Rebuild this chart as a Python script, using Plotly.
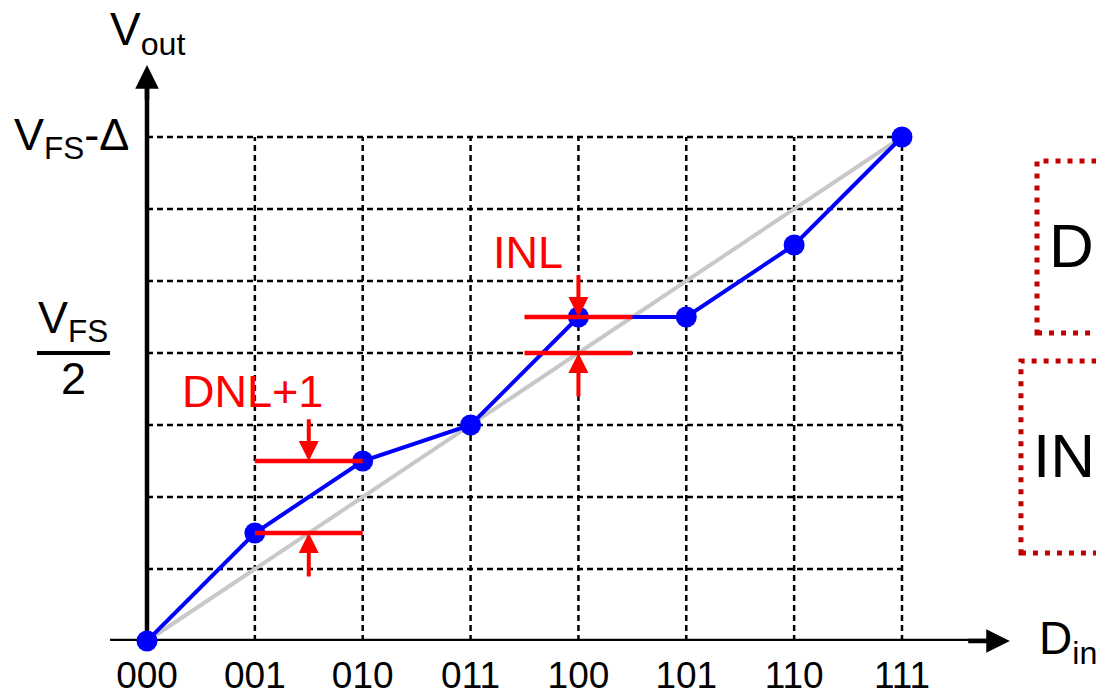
import plotly.graph_objects as go

# DAC transfer characteristic: 3-bit input codes vs. output level (in LSB units)
codes = ["000", "001", "010", "011", "100", "101", "110", "111"]
code_index = [0, 1, 2, 3, 4, 5, 6, 7]
vout_actual = [0, 1.5, 2.5, 3, 4.5, 4.5, 5.5, 7]
vout_ideal = [0, 7]
ideal_x = [0, 7]

# Error markers (horizontal reference bars) and measuring arrows
dnl_bars_y = [2.5, 1.5]
dnl_bars_x = [1, 2]
inl_bars_y = [4.5, 4.0]
inl_bars_x = [3.5, 4.5]
dnl_arrow_x = 1.5
inl_arrow_x = 4.0

FONT = "Arial, Liberation Sans, sans-serif"
BLUE = "#0000ff"
RED = "#ff0000"
DARKRED = "#c00000"

fig = go.Figure()

# dashed grid inside the 0..7 square
for k in range(1, 8):
    fig.add_trace(go.Scatter(x=[k, k], y=[0, 7], mode="lines",
                             line=dict(color="black", width=2.5, dash="6px,4px"),
                             hoverinfo="skip", showlegend=False))
    fig.add_trace(go.Scatter(x=[0, 7], y=[k, k], mode="lines",
                             line=dict(color="black", width=2.5, dash="6px,4px"),
                             hoverinfo="skip", showlegend=False))

# axes
fig.add_trace(go.Scatter(x=[-0.343, 7.8], y=[0, 0], mode="lines",
                         line=dict(color="black", width=4.5),
                         hoverinfo="skip", showlegend=False, cliponaxis=False))
fig.add_trace(go.Scatter(x=[0, 0], y=[0, 7.8], mode="lines",
                         line=dict(color="black", width=4.5),
                         hoverinfo="skip", showlegend=False, cliponaxis=False))

# ideal transfer line
fig.add_trace(go.Scatter(x=ideal_x, y=vout_ideal, mode="lines",
                         line=dict(color="#c8c8c8", width=4),
                         hoverinfo="skip", showlegend=False))

# actual transfer curve
fig.add_trace(go.Scatter(x=code_index, y=vout_actual, mode="lines+markers",
                         line=dict(color=BLUE, width=4),
                         marker=dict(color=BLUE, size=21),
                         hoverinfo="skip", showlegend=False, cliponaxis=False))

# red reference bars
for yv in dnl_bars_y:
    fig.add_trace(go.Scatter(x=dnl_bars_x, y=[yv, yv], mode="lines",
                             line=dict(color=RED, width=4.5),
                             hoverinfo="skip", showlegend=False))
for yv in inl_bars_y:
    fig.add_trace(go.Scatter(x=inl_bars_x, y=[yv, yv], mode="lines",
                             line=dict(color=RED, width=4.5),
                             hoverinfo="skip", showlegend=False))

# fraction bar of the VFS/2 label
fig.add_trace(go.Scatter(x=[-1.02, -0.343], y=[4.0, 4.0], mode="lines",
                         line=dict(color="black", width=4),
                         hoverinfo="skip", showlegend=False, cliponaxis=False))


def arrow(x, y, ax, ay, color, width, size):
    fig.add_annotation(x=x, y=y, ax=ax, ay=ay, xref="x", yref="y",
                       axref="x", ayref="y", text="", showarrow=True,
                       arrowhead=2, arrowsize=size, arrowwidth=width,
                       arrowcolor=color, standoff=0, startstandoff=0)


# axis arrowheads
arrow(8.0, 0, 7.6, 0, "black", 4.5, 1.05)
arrow(0, 8.0, 0, 7.5, "black", 4.5, 1.05)

# DNL / INL measuring arrows
arrow(dnl_arrow_x, dnl_bars_y[0], dnl_arrow_x, 3.1, RED, 4, 1.0)
arrow(dnl_arrow_x, dnl_bars_y[1], dnl_arrow_x, 0.875, RED, 4, 1.0)
arrow(inl_arrow_x, inl_bars_y[0], inl_arrow_x, 5.1, RED, 4, 1.0)
arrow(inl_arrow_x, inl_bars_y[1], inl_arrow_x, 3.375, RED, 4, 1.0)


def label(text, x, y, size, color="black", xanchor="center", yanchor="middle"):
    fig.add_annotation(x=x, y=y, xref="x", yref="y", text=text, showarrow=False,
                       xanchor=xanchor, yanchor=yanchor,
                       font=dict(family=FONT, size=size, color=color))


label("V<sub>out</sub>", -0.362, 8.45, 46, xanchor="left")
label("V<sub>FS</sub>-Δ", -0.15, 7.0, 45, xanchor="right")
label("V<sub>FS</sub>", -0.69, 4.45, 45)
label("2", -0.68, 3.64, 45)
label("D<sub>in</sub>", 8.25, 0.0, 46, xanchor="left")
label("DNL+1", 0.974, 3.47, 45, color=RED)
label("INL", 3.533, 5.39, 45, color=RED)

# partially visible side panels
fig.add_shape(type="rect", xref="x", yref="y", x0=8.252, x1=9.9, y0=4.278, y1=6.667,
              line=dict(color=DARKRED, width=5, dash="5px,7px"))
fig.add_shape(type="rect", xref="x", yref="y", x0=8.103, x1=9.9, y0=1.222, y1=3.889,
              line=dict(color=DARKRED, width=5, dash="5px,7px"))
label("D", 8.34, 5.5, 62, xanchor="left")
label("IN", 8.2, 2.58, 62, xanchor="left")

fig.update_xaxes(range=[-1.3629, 8.7987], tickvals=code_index, ticktext=codes,
                 showgrid=False, zeroline=False, showline=False, ticks="",
                 ticklabelstandoff=9,
                 tickfont=dict(family=FONT, size=37, color="black"))
fig.update_yaxes(range=[0, 8.9028], visible=False)

fig.update_layout(width=1096, height=695,
                  margin=dict(l=0, r=0, t=0, b=54),
                  plot_bgcolor="white", paper_bgcolor="white",
                  showlegend=False)

fig.write_html("out.html")
